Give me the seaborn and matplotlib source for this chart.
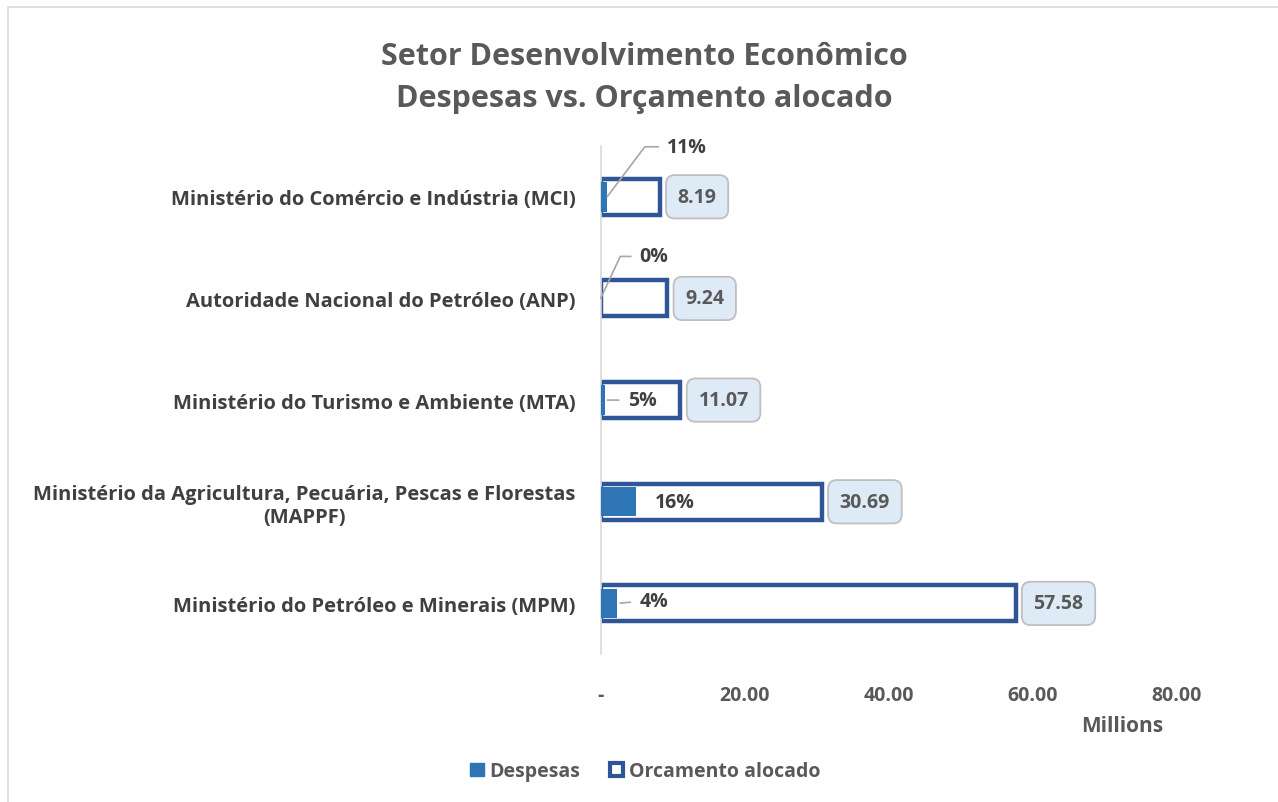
"""Setor Desenvolvimento Economico: despesas vs orcamento alocado."""
import numpy as np
import pandas as pd
import matplotlib
matplotlib.use("Agg")
import matplotlib.pyplot as plt
import seaborn as sns
from matplotlib.patches import Patch, Rectangle

# data (millions)
CATEGORIES = [
    "Ministério do Comércio e Indústria (MCI)",
    "Autoridade Nacional do Petróleo (ANP)",
    "Ministério do Turismo e Ambiente (MTA)",
    "Ministério da Agricultura, Pecuária, Pescas e Florestas\n(MAPPF)",
    "Ministério do Petróleo e Minerais (MPM)",
]
ORCAMENTO = [8.19, 9.24, 11.07, 30.69, 57.58]
DESPESAS = [0.90, 0.0, 0.55, 4.91, 2.30]
X_TICKS = [0, 20, 40, 60, 80]

# layout of the percentage labels: (dx px, dy px, leader angle or None)
PCT_LAYOUT = [(60, 50, 53), (39, 42, 65), (23, 0, "straight"), (19, 0, None), (22, 2, "straight")]

DARK = "#2F5597"
FILL = "#2E75B6"
TEXT = "#404040"
GREY = "#595959"

sns.set_theme(style="white")
plt.rcParams["font.family"] = ["Open Sans", "DejaVu Sans"]

df = pd.DataFrame({"cat": CATEGORIES, "orc": ORCAMENTO, "desp": DESPESAS})

fig = plt.figure(figsize=(12.78, 8.03), dpi=100)
ax = fig.add_axes([0.470, 0.184, 0.451, 0.633])

sns.barplot(data=df, y="cat", x="orc", orient="h", ax=ax, color="white",
            width=0.355, edgecolor=DARK, linewidth=3.2, saturation=1, zorder=2)
sns.barplot(data=df, y="cat", x="desp", orient="h", ax=ax, color=FILL,
            width=0.29, linewidth=0, saturation=1, zorder=3)

ax.set_xlim(0, 80)
ax.set_ylim(4.5, -0.5)
ax.set_xticks(X_TICKS)
ax.set_xticklabels(["-" if t == 0 else f"{t:.2f}" for t in X_TICKS])
ax.set_xlabel("")
ax.set_ylabel("")
ax.tick_params(axis="x", length=0, pad=22, labelsize=14, labelcolor=GREY)
ax.tick_params(axis="y", length=0, pad=18, labelsize=14.5, labelcolor=TEXT)
for lab in ax.get_xticklabels() + ax.get_yticklabels():
    lab.set_fontweight("bold")
for lab in ax.get_yticklabels():
    lab.set_horizontalalignment("right")
    lab.set_multialignment("center")
for side in ["top", "right", "bottom"]:
    ax.spines[side].set_visible(False)
ax.spines["left"].set_color("#d9d9d9")
ax.spines["left"].set_linewidth(1.2)

# value boxes
for i, v in enumerate(ORCAMENTO):
    ax.annotate(f"{v:.2f}", xy=(v, i), xytext=(18, 0), textcoords="offset pixels",
                ha="left", va="center", fontsize=14, fontweight="bold", color=GREY,
                bbox=dict(boxstyle="round,pad=0.6,rounding_size=0.45", fc="#DEEBF7",
                          ec="#bfbfbf", lw=1.3), zorder=5)

# percentage labels
for i, (d, o) in enumerate(zip(DESPESAS, ORCAMENTO)):
    dx, dy, leader = PCT_LAYOUT[i]
    arrow = None
    if leader == "straight":
        arrow = dict(arrowstyle="-", color="#a6a6a6", lw=1.2, relpos=(0, 0.5),
                     shrinkA=4, shrinkB=2)
    elif leader is not None:
        arrow = dict(arrowstyle="-", color="#a6a6a6", lw=1.2, relpos=(0, 0.5),
                     shrinkA=4, shrinkB=0,
                     connectionstyle=f"angle,angleA=0,angleB={leader},rad=0")
    ax.annotate(f"{d / o:.0%}", xy=(d, i), xytext=(dx, dy), textcoords="offset pixels",
                ha="left", va="center", fontsize=14, fontweight="bold", color=TEXT,
                arrowprops=arrow, zorder=6)

fig.suptitle("Setor Desenvolvimento Econômico\nDespesas vs. Orçamento alocado",
             x=0.504, y=0.948, fontsize=22, fontweight="bold", color=GREY,
             linespacing=1.55)
fig.text(0.878, 0.095, "Millions", ha="center", va="center", fontsize=15,
         fontweight="bold", color=GREY)

handles = [Patch(facecolor=FILL, edgecolor=FILL, label="Despesas"),
           Patch(facecolor="white", edgecolor=DARK, lw=3, label="Orcamento alocado")]
leg = fig.legend(handles=handles, loc="center", bbox_to_anchor=(0.505, 0.038), ncol=2,
                 frameon=False, handlelength=0.7, handleheight=0.7, handletextpad=0.3,
                 columnspacing=1.5, prop=dict(size=14, weight="bold"))
for t in leg.get_texts():
    t.set_color(GREY)

fig.patches.append(Rectangle((0.006, -0.01), 1.0, 1.0, transform=fig.transFigure,
                             fill=False, ec="#d9d9d9", lw=1.2))

fig.savefig("out.png", dpi=100)
